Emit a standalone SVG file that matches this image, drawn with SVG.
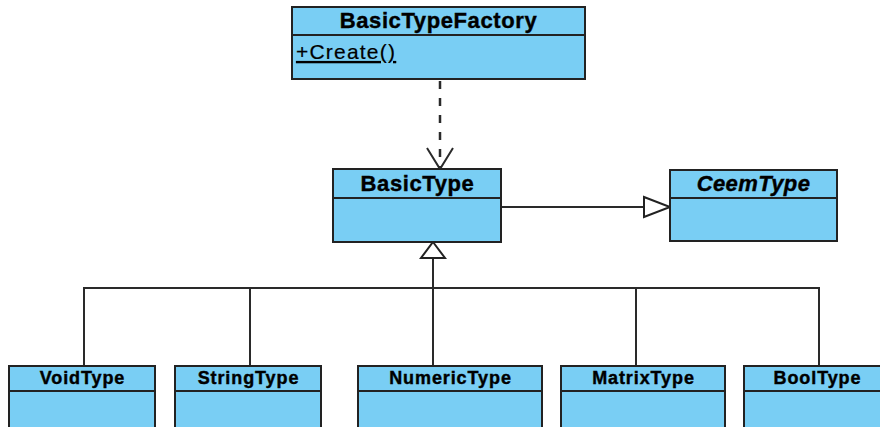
<svg xmlns="http://www.w3.org/2000/svg" width="880" height="427" viewBox="0 0 880 427">
<style>
.box{fill:#79CEF4;stroke:#222;stroke-width:2}
.div{stroke:#222;stroke-width:2}
.t{font-family:"Liberation Sans",Arial,sans-serif;font-weight:bold;fill:#000;stroke:#000;stroke-width:0.4;text-anchor:middle}
.big{font-size:22px;letter-spacing:0.6px}
.small{font-size:18px;letter-spacing:0.9px}
.m{font-family:"Liberation Sans",Arial,sans-serif;font-size:21px;letter-spacing:1.2px;fill:#000;stroke:#000;stroke-width:0.2}
.ln{fill:none;stroke:#2a2a2a;stroke-width:2}
</style>
<rect width="880" height="427" fill="#fff"/>
<g id="connectors">
<line x1="440" y1="81" x2="440" y2="168" fill="none" stroke="#2a2a2a" stroke-width="2.5" stroke-dasharray="8,9"/>
<polyline class="ln" points="427,148 440,169 453,148"/>
<line class="ln" x1="501" y1="207" x2="644" y2="207"/>
<polygon points="644,197 670,207 644,217" fill="#fff" stroke="#222" stroke-width="2"/>
<polyline class="ln" points="84,366 84,288 819,288 819,366"/>
<line class="ln" x1="250" y1="288" x2="250" y2="366"/>
<line class="ln" x1="433" y1="258" x2="433" y2="366"/>
<line class="ln" x1="636" y1="288" x2="636" y2="366"/>
<polygon points="433,242 445,258 421,258" fill="#fff" stroke="#222" stroke-width="2"/>
</g>
<g id="BasicTypeFactory">
<rect class="box" x="292" y="7" width="293" height="72"/>
<line class="div" x1="292" y1="35" x2="585" y2="35"/>
<text class="t big" x="438.5" y="28">BasicTypeFactory</text>
<text class="m" x="296" y="59" text-decoration="underline">+Create()</text>
</g>
<g id="BasicType">
<rect class="box" x="333" y="169" width="168" height="73"/>
<line class="div" x1="333" y1="198" x2="501" y2="198"/>
<text class="t big" x="417.5" y="191">BasicType</text>
</g>
<g id="CeemType">
<rect class="box" x="670" y="170" width="167" height="71"/>
<line class="div" x1="670" y1="198" x2="837" y2="198"/>
<text class="t big" x="753.5" y="191" font-style="italic" style="letter-spacing:0.4px">CeemType</text>
</g>
<g id="VoidType">
<rect class="box" x="9" y="366" width="146" height="80"/>
<line class="div" x1="9" y1="391" x2="155" y2="391"/>
<text class="t small" x="82.5" y="384">VoidType</text>
</g>
<g id="StringType">
<rect class="box" x="175" y="366" width="146" height="80"/>
<line class="div" x1="175" y1="391" x2="321" y2="391"/>
<text class="t small" x="248.5" y="384">StringType</text>
</g>
<g id="NumericType">
<rect class="box" x="358" y="366" width="184" height="80"/>
<line class="div" x1="358" y1="391" x2="542" y2="391"/>
<text class="t small" x="450.5" y="384">NumericType</text>
</g>
<g id="MatrixType">
<rect class="box" x="561" y="366" width="164" height="80"/>
<line class="div" x1="561" y1="391" x2="725" y2="391"/>
<text class="t small" x="643.5" y="384">MatrixType</text>
</g>
<g id="BoolType">
<rect class="box" x="744" y="366" width="150" height="80"/>
<line class="div" x1="744" y1="391" x2="894" y2="391"/>
<text class="t small" x="817.5" y="384">BoolType</text>
</g>
</svg>
